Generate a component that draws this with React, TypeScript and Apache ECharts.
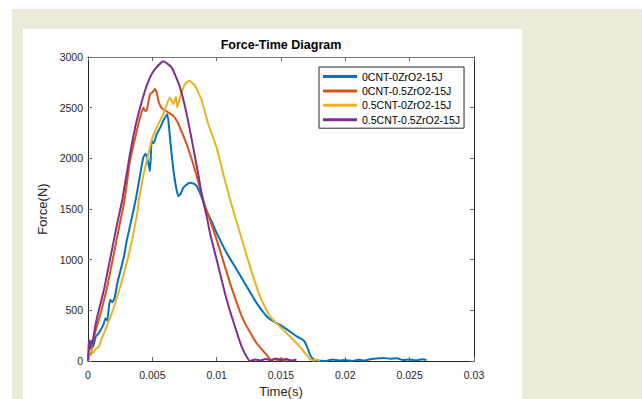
import React, { useEffect, useRef } from "react";
import * as echarts from "echarts";

const seriesNames = [
  "0CNT-0ZrO2-15J",
  "0CNT-0.5ZrO2-15J",
  "0.5CNT-0ZrO2-15J",
  "0.5CNT-0.5ZrO2-15J",
];
const seriesColors = ["#0072BD", "#D95319", "#EDB120", "#7E2F8E"];

const xTicks = [0, 0.005, 0.01, 0.015, 0.02, 0.025, 0.03];
const yTicks = [0, 500, 1000, 1500, 2000, 2500, 3000];

const blue: [number, number][] = [
  [0, 0], [0.0001, 120], [0.0002, 60], [0.0003, 180], [0.0004, 140], [0.0006, 241],
  [0.0008, 270], [0.00098, 307], [0.0012, 360], [0.00137, 423], [0.0015, 400],
  [0.00171, 604], [0.0019, 580], [0.0021, 640], [0.00228, 769], [0.0025, 880],
  [0.0028, 1033], [0.003, 1180], [0.00332, 1363], [0.00371, 1594], [0.004, 1800],
  [0.0043, 2010], [0.00448, 2046], [0.0047, 1950], [0.00482, 1874], [0.00495, 2172],
  [0.0051, 2150], [0.00534, 2238], [0.0056, 2300], [0.00585, 2370], [0.00617, 2436],
  [0.0063, 2300], [0.0065, 2040], [0.00676, 1776], [0.00702, 1627], [0.0072, 1650],
  [0.00741, 1710], [0.00765, 1740], [0.00793, 1759], [0.0082, 1750], [0.00845, 1726],
  [0.0087, 1660], [0.00896, 1577], [0.00922, 1480], [0.0096, 1380], [0.01, 1264],
  [0.01078, 1066], [0.01156, 901], [0.01233, 736], [0.01311, 571], [0.01389, 439],
  [0.0143, 400], [0.01467, 373], [0.0152, 335], [0.0157, 290], [0.01625, 240],
  [0.01673, 208], [0.017, 150], [0.01726, 60], [0.0175, 20], [0.0178, 5],
  [0.0185, 0], [0.019, 15], [0.0195, 5], [0.02, 10], [0.0205, 0], [0.021, 12],
  [0.0215, 5], [0.022, 20], [0.0225, 25], [0.023, 30], [0.0235, 22], [0.024, 28],
  [0.0245, 10], [0.025, 15], [0.0255, 5], [0.026, 18], [0.0263, 10],
];

const red: [number, number][] = [
  [0, 0], [0.0001, 100], [0.0002, 60], [0.00033, 175], [0.0006, 300], [0.00098, 472],
  [0.0015, 736], [0.00202, 1066], [0.00254, 1396], [0.00285, 1594], [0.00326, 1973],
  [0.0037, 2220], [0.004, 2380], [0.0043, 2502], [0.00443, 2469], [0.00455, 2470],
  [0.00482, 2634], [0.005, 2650], [0.00521, 2683], [0.00535, 2640], [0.00547, 2568],
  [0.00565, 2510], [0.00585, 2485], [0.00624, 2452], [0.00663, 2419], [0.0069, 2370],
  [0.00715, 2304], [0.00767, 2139], [0.00818, 1941], [0.0087, 1710], [0.0091, 1528],
  [0.00935, 1440], [0.01, 1198], [0.01104, 769], [0.01207, 406], [0.01311, 175],
  [0.01389, 59], [0.01428, 5], [0.0145, 20], [0.0148, 5], [0.015, 25], [0.0152, 0],
  [0.0154, 15], [0.0157, 5],
];

const yellow: [number, number][] = [
  [0, 0], [0.0001, 60], [0.0002, 109], [0.0004, 80], [0.0006, 120], [0.00085, 142],
  [0.001, 200], [0.00124, 274], [0.00176, 439], [0.00228, 637], [0.0028, 868],
  [0.00332, 1132], [0.00383, 1462], [0.00396, 1594], [0.0043, 1830], [0.00456, 1973],
  [0.00495, 2180], [0.00534, 2304], [0.00585, 2436], [0.00637, 2601], [0.00663, 2535],
  [0.00684, 2607], [0.00694, 2502], [0.00715, 2601], [0.00754, 2733], [0.00787, 2766],
  [0.00832, 2716], [0.00884, 2568], [0.00935, 2337], [0.01, 2106], [0.01052, 1842],
  [0.01104, 1594], [0.01181, 1264], [0.01259, 934], [0.01337, 637], [0.01415, 439],
  [0.01518, 307], [0.01622, 175], [0.017, 59], [0.01726, 17], [0.0175, 5],
  [0.0178, 15], [0.018, 0],
];

const purple: [number, number][] = [
  [0, 0], [0.00005, 150], [0.00008, 208], [0.00015, 130], [0.00025, 200], [0.00035, 170],
  [0.00045, 260], [0.00072, 439], [0.00124, 703], [0.00176, 1033], [0.00228, 1363],
  [0.00267, 1594], [0.00326, 2040], [0.00378, 2369], [0.00443, 2667], [0.00482, 2799],
  [0.00521, 2881], [0.00585, 2957], [0.0065, 2898], [0.00715, 2700], [0.00767, 2436],
  [0.00818, 2106], [0.00857, 1842], [0.0089, 1600], [0.00922, 1430], [0.00948, 1264],
  [0.01013, 934], [0.01078, 604], [0.01142, 340], [0.01194, 142], [0.01233, 43],
  [0.0126, 0], [0.013, 15], [0.0134, 5], [0.0138, 20], [0.0142, 8], [0.0146, 25],
  [0.015, 10], [0.0154, 20], [0.0158, 5], [0.0162, 15],
];

const seriesData = [blue, red, yellow, purple];

const FONT = "Liberation Sans, Arial, sans-serif";
const AXIS_COLOR = "#262626";

export default function App() {
  const ref = useRef<HTMLDivElement>(null);

  useEffect(() => {
    if (!ref.current) return;
    const chart = echarts.init(ref.current, undefined, { renderer: "svg" });
    const fmtX = (v: number) => String(parseFloat(v.toFixed(3)));
    const fmtY = (v: number) => String(Math.round(v));
    const tick = { show: true, inside: true, length: 4, lineStyle: { color: "#666", width: 1 } };
    const line = { show: true, onZero: false, lineStyle: { color: AXIS_COLOR, width: 1 } };
    const lineTop = { show: true, onZero: false, lineStyle: { color: "#777", width: 1 } };
    chart.setOption({
      animation: false,
      backgroundColor: "transparent",
      textStyle: { fontFamily: FONT },
      title: {
        text: "Force-Time Diagram",
        left: 281,
        textAlign: "center",
        top: 38,
        padding: 0,
        textStyle: { fontFamily: FONT, fontSize: 12.5, fontWeight: "bold", color: "#000" },
      },
      legend: {
        orient: "vertical",
        left: 319,
        top: 67,
        padding: [3, 4, 2, 4],
        itemGap: 1.4,
        itemWidth: 34,
        itemHeight: 3,
        icon: "rect",
        borderColor: AXIS_COLOR,
        borderWidth: 1,
        borderRadius: 0,
        backgroundColor: "#fff",
        data: seriesNames,
        textStyle: { fontFamily: FONT, fontSize: 10.5, color: "#000", lineHeight: 13 },
      },
      grid: {
        left: 88,
        right: 168,
        top: 57,
        bottom: 38,
        containLabel: false,
        outerBoundsMode: "none",
      },
      xAxis: [
        {
          type: "value",
          min: xTicks[0],
          max: xTicks[xTicks.length - 1],
          interval: 0.005,
          position: "bottom",
          splitLine: { show: false },
          axisLine: line,
          axisTick: tick,
          name: "Time(s)",
          nameLocation: "middle",
          nameGap: 24,
          nameTextStyle: { fontFamily: FONT, fontSize: 13, color: AXIS_COLOR },
          axisLabel: { fontFamily: FONT, fontSize: 10.5, color: AXIS_COLOR, margin: 8, formatter: fmtX },
        },
        {
          type: "value",
          min: xTicks[0],
          max: xTicks[xTicks.length - 1],
          interval: 0.005,
          position: "top",
          splitLine: { show: false },
          axisLine: lineTop,
          axisTick: tick,
          axisLabel: { show: false },
        },
      ],
      yAxis: [
        {
          type: "value",
          min: yTicks[0],
          max: yTicks[yTicks.length - 1],
          interval: 500,
          position: "left",
          splitLine: { show: false },
          axisLine: line,
          axisTick: tick,
          name: "Force(N)",
          nameLocation: "middle",
          nameGap: 32,
          nameTextStyle: { fontFamily: FONT, fontSize: 13, color: AXIS_COLOR },
          axisLabel: { fontFamily: FONT, fontSize: 10.5, color: AXIS_COLOR, margin: 5, formatter: fmtY },
        },
        {
          type: "value",
          min: yTicks[0],
          max: yTicks[yTicks.length - 1],
          interval: 500,
          position: "right",
          splitLine: { show: false },
          axisLine: line,
          axisTick: tick,
          axisLabel: { show: false },
        },
      ],
      series: seriesNames.map((name, i) => ({
        name,
        type: "line",
        data: seriesData[i],
        showSymbol: false,
        symbol: "none",
        smooth: 0.15,
        lineStyle: { color: seriesColors[i], width: 2 },
        itemStyle: { color: seriesColors[i] },
        z: 2 + i,
      })),
    });
    return () => chart.dispose();
  }, []);

  return (
    <div style={{ position: "fixed", left: 0, top: 0, width: 642, height: 399, background: "#fff", overflow: "hidden" }}>
      <div style={{ position: "absolute", left: 12, top: 9, right: 0, bottom: 0, background: "#ECEBDA" }} />
      <div style={{ position: "absolute", left: 23, top: 29, width: 499, bottom: 0, background: "#fff" }} />
      <div ref={ref} style={{ position: "absolute", left: 0, top: 0, width: 642, height: 399 }} />
    </div>
  );
}
